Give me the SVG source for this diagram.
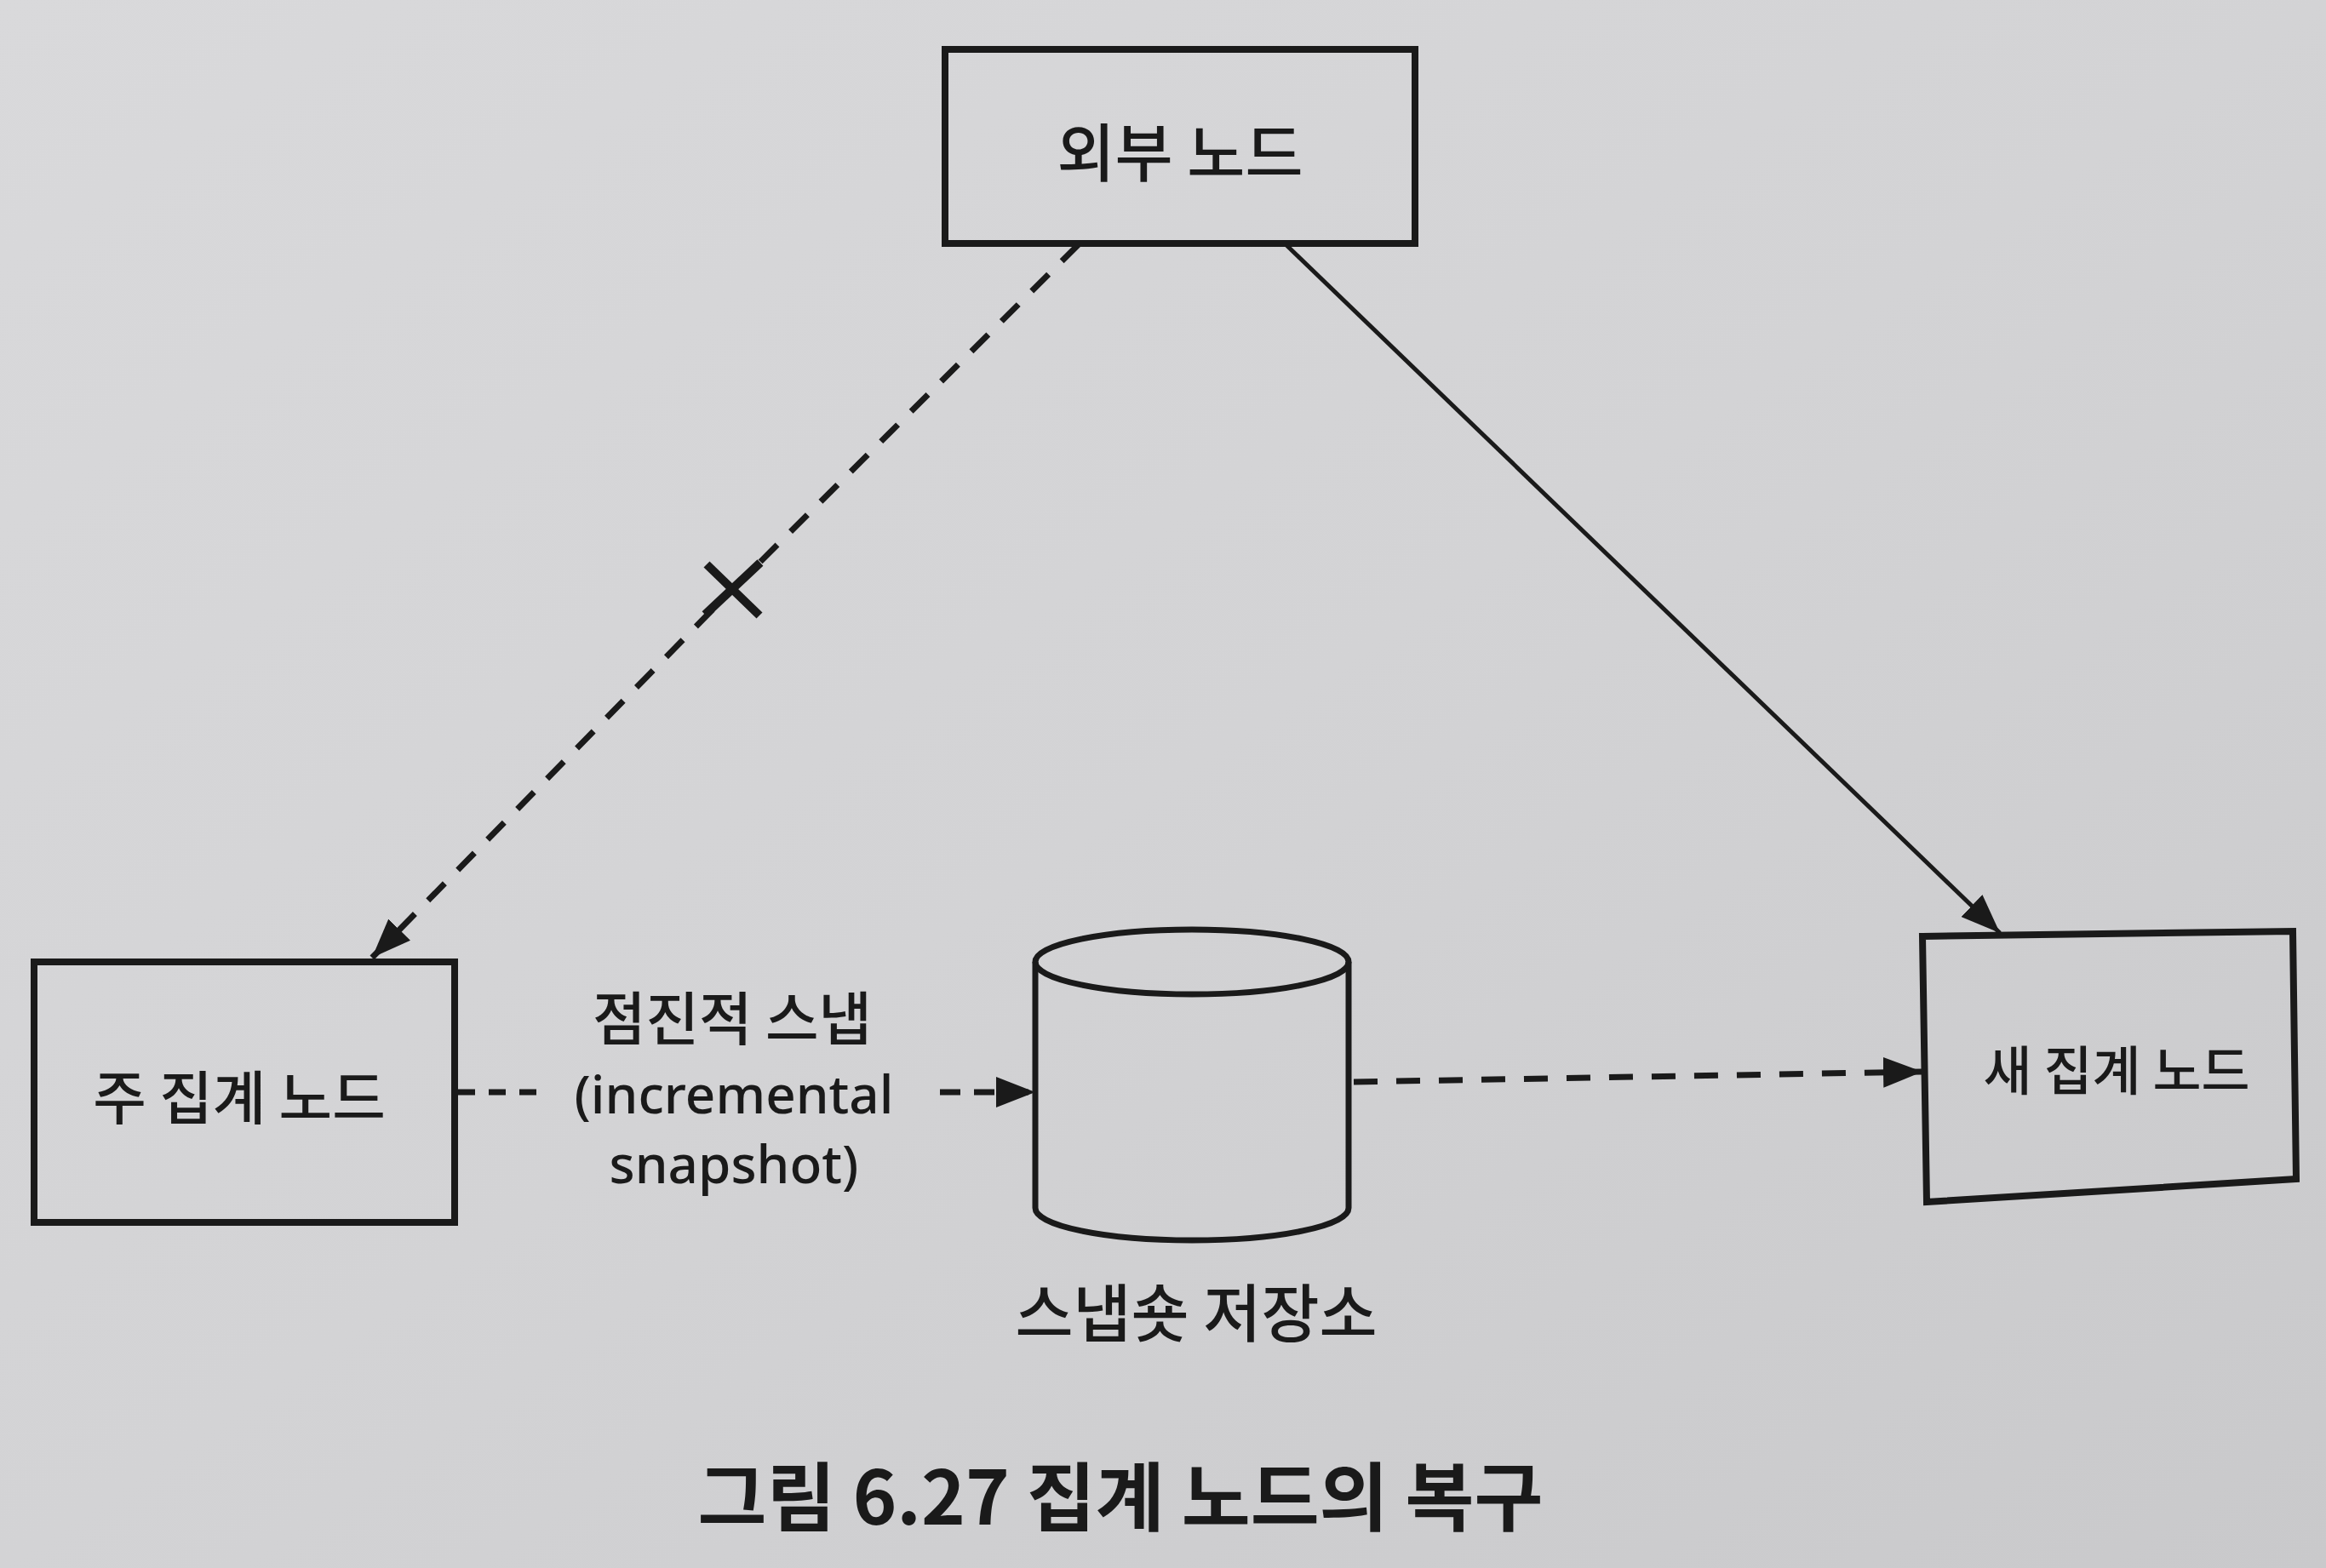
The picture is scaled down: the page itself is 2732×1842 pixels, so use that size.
<svg xmlns="http://www.w3.org/2000/svg" width="2732" height="1842" viewBox="0 0 2732 1842">
  <defs>
    <linearGradient id="bg" x1="0" y1="0" x2="1" y2="1">
      <stop offset="0" stop-color="#d9d9db"/>
      <stop offset="0.5" stop-color="#d3d3d5"/>
      <stop offset="1" stop-color="#c9c9cb"/>
    </linearGradient>
    <marker id="arrow" viewBox="0 0 46 36" refX="46" refY="18" markerWidth="46" markerHeight="36" markerUnits="userSpaceOnUse" orient="auto">
      <path d="M0,0 L46,18 L0,36 Z" fill="#1a1a1a"/>
    </marker>
    <style>
      .box { fill: none; stroke: #1a1a1a; stroke-width: 8; }
      .cyl { fill: none; stroke: #1a1a1a; stroke-width: 7; }
      .lbl { font-family: "Noto Sans CJK KR", "Noto Sans", sans-serif; font-weight: 500; fill: #1a1a1a; text-anchor: middle; dominant-baseline: central; }
      .cap { font-weight: 700; }
      .lat { font-family: "Noto Sans", "Noto Sans CJK KR", sans-serif; }
      .dash { fill: none; stroke: #1a1a1a; stroke-width: 7; stroke-dasharray: 28 22; }
      .solid { fill: none; stroke: #1a1a1a; stroke-width: 5; }
      .xm { stroke: #1a1a1a; stroke-width: 10; }
    </style>
  </defs>
  <rect x="0" y="0" width="2732" height="1842" fill="url(#bg)"/>

  <g id="connectors">
    <path class="dash" d="M1267,287 L883,670" />
    <path class="dash" d="M837,716 L437,1125" marker-end="url(#arrow)"/>
    <g id="x-mark">
      <line class="xm" x1="830" y1="663" x2="892" y2="723"/>
      <line class="xm" x1="828" y1="722" x2="893" y2="661"/>
    </g>
    <path class="solid" d="M1510,287 L2349,1096" marker-end="url(#arrow)"/>
    <path class="dash" style="stroke-dasharray: 20 16" d="M538,1283 L640,1283"/>
    <path class="dash" style="stroke-dasharray: 24 16" d="M1104,1283 L1216,1283" marker-end="url(#arrow)"/>
    <path class="dash" d="M1590,1271 L2258,1259" marker-end="url(#arrow)"/>
    <g id="edge-label">
      <text class="lbl" x="860" y="1192" font-size="68">점진적 스냅</text>
      <text class="lbl lat" x="862" y="1284" font-size="62">(incremental</text>
      <text class="lbl lat" x="862" y="1366" font-size="62">snapshot)</text>
    </g>
  </g>

  <g id="node-external">
    <rect class="box" x="1110" y="58" width="552" height="228"/>
    <text class="lbl" x="1386" y="174" font-size="74">외부 노드</text>
  </g>

  <g id="node-primary">
    <rect class="box" x="40" y="1130" width="494" height="306"/>
    <text class="lbl" x="281" y="1285" font-size="68">주 집계 노드</text>
  </g>

  <g id="node-new">
    <polygon class="box" points="2258,1100 2693,1094 2697,1385 2263,1412"/>
    <text class="lbl" x="2486" y="1254" font-size="62">새 집계 노드</text>
  </g>

  <g id="node-store">
    <path class="cyl" d="M1216,1130 L1216,1419 A184,38 0 0 0 1584,1419 L1584,1130"/>
    <ellipse class="cyl" cx="1400" cy="1130" rx="184" ry="38"/>
    <text class="lbl" x="1405" y="1537" font-size="74">스냅숏 저장소</text>
  </g>

  <g id="caption">
    <text class="lbl cap" x="1316" y="1752" font-size="88">그림 6.27 집계 노드의 복구</text>
  </g>
</svg>
